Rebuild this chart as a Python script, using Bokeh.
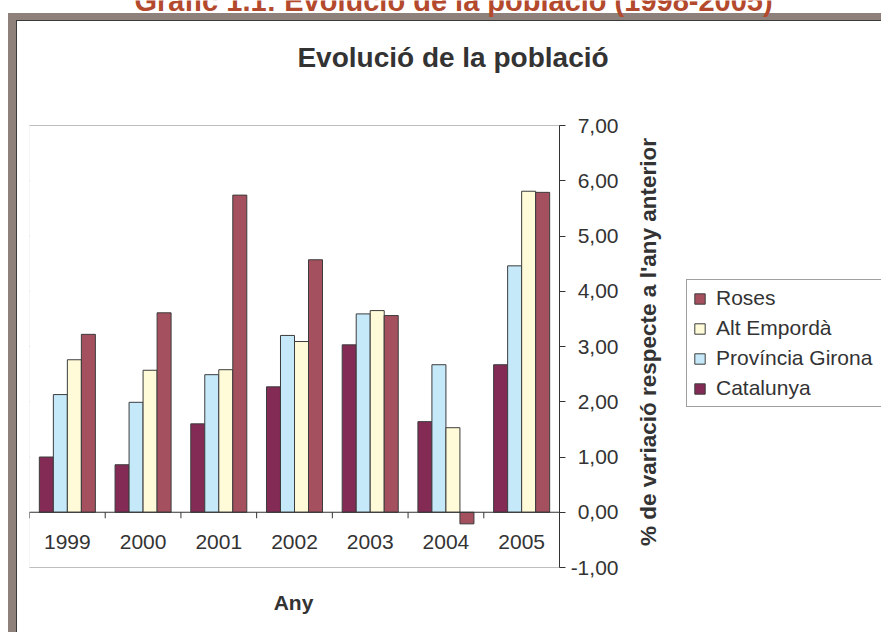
from bokeh.plotting import figure
from bokeh.models import (Range1d, FixedTicker, Legend, LegendItem, Label,
                          ColumnDataSource, BoxAnnotation)
from bokeh.core.properties import value
from bokeh.transform import dodge
from bokeh.embed import file_html
from bokeh.resources import INLINE

# ---------------- data ----------------
years = ["1999", "2000", "2001", "2002", "2003", "2004", "2005"]
catalunya = [1.00, 0.86, 1.60, 2.27, 3.03, 1.64, 2.67]
provincia_girona = [2.13, 1.99, 2.49, 3.20, 3.59, 2.67, 4.46]
alt_emporda = [2.76, 2.57, 2.58, 3.09, 3.65, 1.53, 5.81]
roses = [3.22, 3.61, 5.74, 4.57, 3.56, -0.21, 5.79]

series_names = ["Catalunya", "Província Girona", "Alt Empordà", "Roses"]
legend_order = ["Roses", "Alt Empordà", "Província Girona", "Catalunya"]

y_ticks = [-1, 0, 1, 2, 3, 4, 5, 6, 7]
y_tick_labels = ["-1,00", "0,00", "1,00", "2,00", "3,00", "4,00", "5,00", "6,00", "7,00"]

page_title = "Gràfic 1.1: Evolució de la població (1998-2005)"
chart_title = "Evolució de la població"
x_title = "Any"
y_title = "% de variació respecte a l'any anterior"

# ---------------- styles / layout ----------------
colors = {"Catalunya": "#832b55", "Província Girona": "#c6e9fa",
          "Alt Empordà": "#fffbd9", "Roses": "#a4505f"}
offsets = [-0.2775, -0.0925, 0.0925, 0.2775]
BAR_W = 0.185
TXT = "#333333"
FONT = "Liberation Sans"

W, H = 881, 632
PA_L, PA_R, PA_T, PA_B = 29, 559, 125, 567        # plot area in canvas px
n_cat = len(years)
cat_px = (PA_R - PA_L) / n_cat                      # px per category
y_lo, y_hi = y_ticks[0], y_ticks[-1]
unit_px = (PA_B - PA_T) / (y_hi - y_lo)             # px per y unit

GRAY, DARK = "#8e817b", "#3a3a3a"
frame_css = (
    f"linear-gradient({DARK},{DARK}) 16px 20px / 1px 620px no-repeat, "
    f"linear-gradient({DARK},{DARK}) 16px 20px / 870px 1px no-repeat, "
    f"linear-gradient({GRAY},{GRAY}) 8px 13px / 8px 625px no-repeat, "
    f"linear-gradient({GRAY},{GRAY}) 8px 13px / 880px 7px no-repeat, white"
)

xc = [i + 0.5 for i in range(n_cat)]               # category centres
xb = [float(i) for i in range(n_cat)]              # category left boundaries
source = ColumnDataSource(dict(years=years, xc=xc, xb=xb, catalunya=catalunya,
                               provincia_girona=provincia_girona,
                               alt_emporda=alt_emporda, roses=roses))
keys = ["catalunya", "provincia_girona", "alt_emporda", "roses"]

x_range = Range1d(0, (W - PA_L) / cat_px)
y_range = Range1d(y_lo - (H - PA_B) / unit_px, y_hi + PA_T / unit_px)

p = figure(width=W, height=H, x_range=x_range, y_range=y_range,
           x_axis_location=None, y_axis_location="left",
           output_backend="svg", toolbar_location=None, title=None,
           min_border_left=PA_L, min_border_right=0,
           min_border_top=0, min_border_bottom=0,
           styles={"background": frame_css})
p.background_fill_color = None
p.border_fill_color = None
p.outline_line_color = None
p.grid.visible = False

# plot-area background and border
p.add_layout(BoxAnnotation(left=0, right=n_cat, bottom=y_lo, top=y_hi,
                           fill_color="white", fill_alpha=1,
                           line_color="#b8b8b8", line_width=1, level="underlay"))
# horizontal grid lines
p.segment(x0=[0] * len(y_ticks), x1=[n_cat] * len(y_ticks), y0=y_ticks, y1=y_ticks,
          line_color="#808080", line_width=1, level="underlay")

# value axis (drawn at the right edge of the plot area, labels to its right)
ya = p.yaxis[0]
ya.fixed_location = n_cat
ya.bounds = (y_lo, y_hi)
ya.ticker = FixedTicker(ticks=y_ticks)
ya.major_label_overrides = {float(t): l for t, l in zip(y_ticks, y_tick_labels)}
ya.axis_line_color = TXT
ya.major_tick_line_color = TXT
ya.major_tick_in = 6
ya.major_tick_out = 0
ya.minor_tick_line_color = None
ya.major_label_standoff = -59
ya.major_label_text_font = FONT
ya.major_label_text_font_size = "21px"
ya.major_label_text_color = TXT

# bars
renderers = {}
for name, key, off in zip(series_names, keys, offsets):
    r = p.vbar(x=dodge("xc", off), top=key, bottom=0, width=BAR_W,
               source=source, fill_color=colors[name],
               line_color="#3c3c3c", line_width=1)
    renderers[name] = r

# category axis: zero line, boundary ticks, labels
p.segment(x0=[0], x1=[n_cat], y0=[0], y1=[0], line_color=TXT, line_width=1)
p.segment(x0="xb", y0=0, x1="xb", y1=-6 / unit_px, source=source,
          line_color=TXT, line_width=1)
p.text(x="xc", y=-0.535, text="years", source=source,
       text_align="center", text_baseline="middle",
       text_font=value(FONT), text_font_size="21px", text_color=TXT)

# legend
legend = Legend(items=[LegendItem(label=n, renderers=[renderers[n]]) for n in legend_order],
                location=(686 - PA_L, H - 407), orientation="vertical",
                padding=6, spacing=6, margin=0,
                glyph_width=13, glyph_height=13, label_standoff=10,
                label_width=165,
                label_text_font=FONT, label_text_font_size="21px",
                label_text_color=TXT, border_line_color="#404040",
                border_line_width=1, background_fill_color="white")
p.add_layout(legend)

# texts (screen units relative to the frame: x from its left, y from its bottom)
def label(text, x, y, size, color=TXT, angle=0):
    p.add_layout(Label(x=x - PA_L, y=H - y, x_units="screen", y_units="screen",
                       text=text, text_align="center", text_baseline="middle",
                       angle=angle, angle_units="deg",
                       text_font=FONT, text_font_style="bold",
                       text_font_size=size, text_color=color))

label(page_title, 453, 0.5, "29px", color="#b44a2d")
label(chart_title, 452.5, 57.3, "28px")
label(x_title, 293, 601.5, "21px")
label(y_title, 648, 341.5, "22.5px", angle=90)

open("out.html", "w").write(file_html(p, INLINE))
